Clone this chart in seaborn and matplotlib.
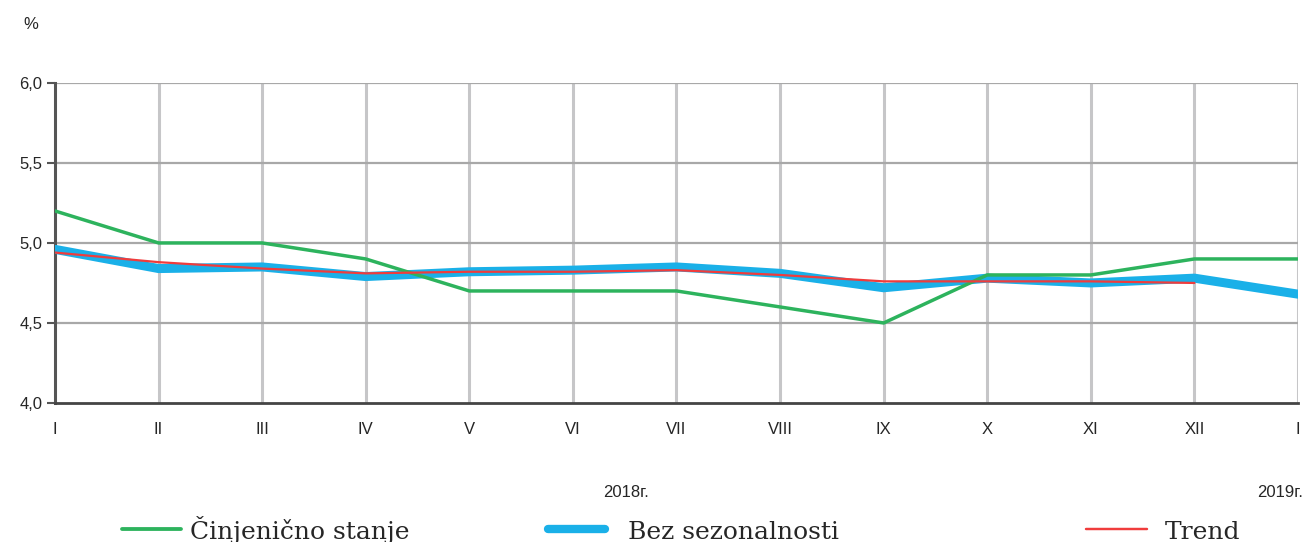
import pandas as pd
import matplotlib.pyplot as plt
import seaborn as sns
from matplotlib.lines import Line2D

months = ["I", "II", "III", "IV", "V", "VI", "VII", "VIII", "IX", "X", "XI", "XII", "I"]
actual = [5.2, 5.0, 5.0, 4.9, 4.7, 4.7, 4.7, 4.6, 4.5, 4.8, 4.8, 4.9, 4.9]
seas_adj = [4.96, 4.84, 4.85, 4.79, 4.82, 4.83, 4.85, 4.81, 4.72, 4.78, 4.75, 4.78, 4.68]
trend = [4.94, 4.88, 4.84, 4.81, 4.82, 4.82, 4.83, 4.80, 4.76, 4.76, 4.76, 4.75, None]

labels = ["Činjenično stanje", "Bez sezonalnosti", "Trend"]
colors = ["#2db35d", "#1ab0e8", "#f03c3c"]
widths = [2.5, 6.5, 1.6]

sns.set_style("white")
plt.rcParams["font.family"] = ["Liberation Sans", "DejaVu Sans"]

df = pd.DataFrame({"pos": range(len(months)), "actual": actual,
                   "seas": seas_adj, "trend": trend})

fig = plt.figure(figsize=(13.09, 5.42), dpi=100)
ax = fig.add_axes([0.042, 0.2565, 0.9496, 0.5905])

ax.set_xlim(0, 12)
ax.set_ylim(4.0, 6.0)
ax.set_xticks(range(len(months)))
ax.set_xticklabels(months)
ax.set_yticks([4.0, 4.5, 5.0, 5.5, 6.0])
ax.set_yticklabels(["4,0", "4,5", "5,0", "5,5", "6,0"])

for x in range(1, 13):
    ax.axvline(x, color="#c6c6c8", lw=2.2, zorder=0)
for y in [4.5, 5.0, 5.5, 6.0]:
    ax.axhline(y, color="#a8a8a8", lw=1.6, zorder=0)

for spine in ["top", "right"]:
    ax.spines[spine].set_visible(False)
ax.spines["left"].set_color("#555555")
ax.spines["left"].set_linewidth(2.2)
ax.spines["bottom"].set_color("#444444")
ax.spines["bottom"].set_linewidth(2)

ax.tick_params(axis="y", left=True, length=6, width=1.5, color="#555555",
               labelsize=12, pad=3)
ax.tick_params(axis="x", bottom=False, labelsize=12, pad=10)

sns.lineplot(data=df, x="pos", y="seas", color=colors[1], lw=widths[1], ax=ax, zorder=3)
sns.lineplot(data=df, x="pos", y="actual", color=colors[0], lw=widths[0], ax=ax, zorder=4)
sns.lineplot(data=df.dropna(), x="pos", y="trend", color=colors[2], lw=widths[2], ax=ax, zorder=5)
ax.set_xlabel("")
ax.set_ylabel("")

fig.text(0.018, 0.955, "%", fontsize=12, ha="left", va="center")
fig.text(0.478, 0.092, "2018г.", fontsize=12, ha="center", va="center")
fig.text(0.978, 0.092, "2019г.", fontsize=12, ha="center", va="center")

# legend drawn along the bottom
handle_x = [(0.093, 0.138), (0.419, 0.462), (0.830, 0.876)]
text_x = [0.145, 0.480, 0.890]
for (x0, x1), tx, lab, c, w in zip(handle_x, text_x, labels, colors, widths):
    fig.add_artist(Line2D([x0, x1], [0.024, 0.024], color=c, lw=min(w * 1.1, 6),
                          solid_capstyle="round", transform=fig.transFigure))
    fig.text(tx, 0.006, lab, fontsize=18, family=["DejaVu Serif"],
             ha="left", va="baseline")

fig.savefig("out.png", dpi=100)
